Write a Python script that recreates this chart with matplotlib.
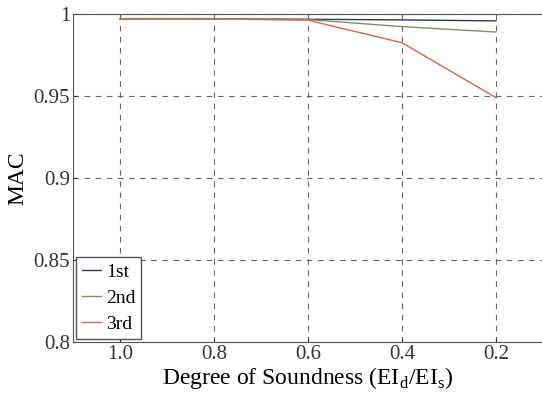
import matplotlib.pyplot as plt

# 손상 정도별 MAC 값
soundness = [1.0, 0.8, 0.6, 0.4, 0.2]
mac_1st = [0.9970, 0.9970, 0.9968, 0.9964, 0.9958]
mac_2nd = [0.9972, 0.9972, 0.9966, 0.9923, 0.9890]
mac_3rd = [0.9968, 0.9970, 0.9962, 0.9825, 0.9490]
yticks = [0.8, 0.85, 0.9, 0.95, 1.0]
ytick_labels = ['0.8', '0.85', '0.9', '0.95', '1']
xtick_labels = ['1.0', '0.8', '0.6', '0.4', '0.2']

plt.rcParams['font.family'] = ['Liberation Serif', 'DejaVu Serif']
plt.rcParams['mathtext.fontset'] = 'custom'
plt.rcParams['mathtext.rm'] = 'Liberation Serif'

fig = plt.figure(figsize=(5.42, 4.05), dpi=100)
ax = fig.add_axes([73 / 542, 1 - 342 / 405, 470 / 542, 328 / 405])

ax.plot(soundness, mac_1st, color='#2b3f5c', lw=1.0, label='1st')
ax.plot(soundness, mac_2nd, color='#7d9160', lw=1.0, label='2nd')
ax.plot(soundness, mac_3rd, color='#d9654f', lw=1.0, label='3rd')

ax.set_xlim(1.1, 0.1)
ax.set_ylim(0.8, 1.0)
ax.set_xticks(soundness)
ax.set_xticklabels(xtick_labels)
ax.set_yticks(yticks)
ax.set_yticklabels(ytick_labels)
ax.tick_params(labelsize=15, length=3, pad=2, direction='in', colors='#333333')
for s in ax.spines.values():
    s.set_color('#555555')
    s.set_linewidth(0.8)

ax.grid(True, linestyle=(0, (5, 5)), color='#666666', linewidth=0.8)

ax.set_ylabel('MAC', fontsize=17, labelpad=4)
ax.set_xlabel(r'Degree of Soundness (EI$_{\mathrm{d}}$/EI$_{\mathrm{s}}$)', fontsize=17, labelpad=1)

leg = ax.legend(loc='lower left', fontsize=14, handlelength=1.0, handletextpad=0.25,
                borderaxespad=0.15, borderpad=0.3, fancybox=False, framealpha=1,
                labelspacing=0.45)
leg.get_frame().set_edgecolor('#555555')

plt.savefig('out.png', dpi=100)
